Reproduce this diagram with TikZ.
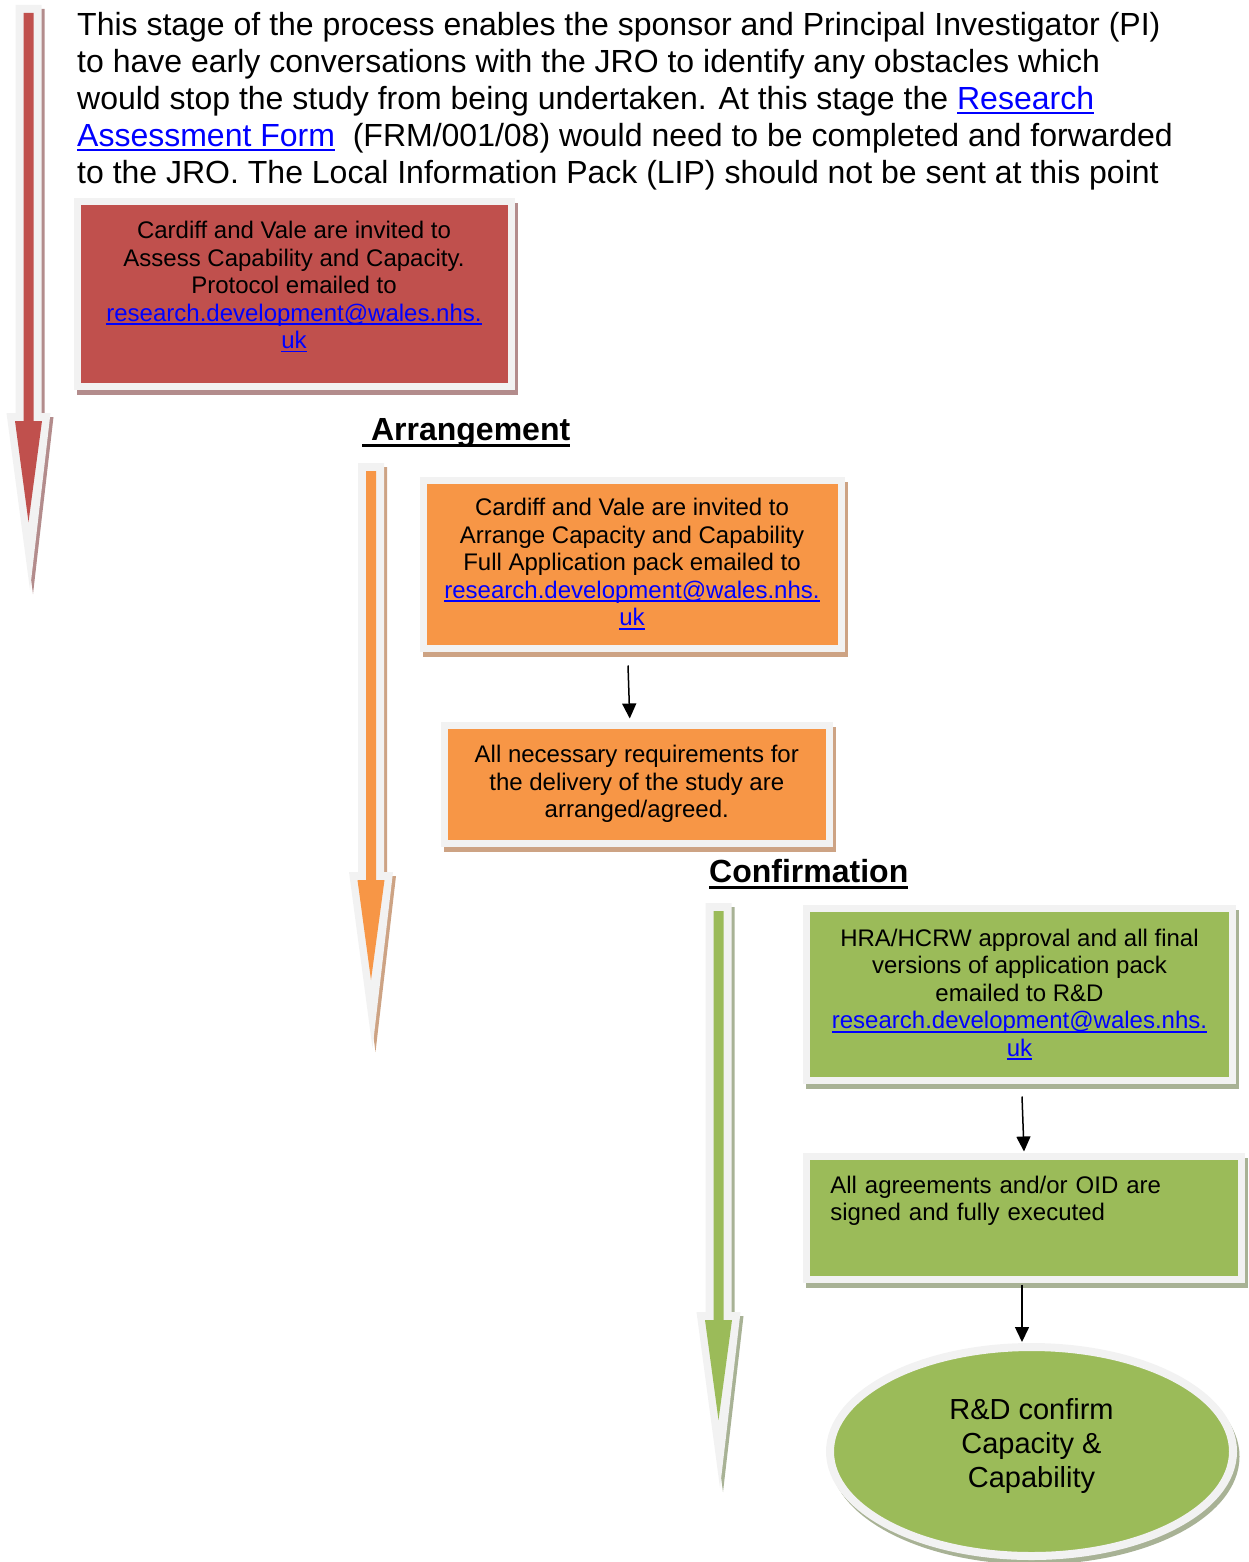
\documentclass[tikz,border=0pt]{standalone}
\usepackage{fontspec}
\setmainfont{Liberation Sans}
\usetikzlibrary{shapes.geometric,shadows,arrows.meta}

\definecolor{assessred}{HTML}{C0504D}
\definecolor{arrangeorange}{HTML}{F79646}
\definecolor{confirmgreen}{HTML}{9BBB59}
\definecolor{rimgray}{HTML}{F2F2F2}
\definecolor{redshade}{HTML}{B38C8C}
\definecolor{orangeshade}{HTML}{CDA384}
\definecolor{greenshade}{HTML}{A8B295}
\definecolor{linkblue}{HTML}{0000FF}

% underlined link and heading text
\newcommand\webref[1]{{\color{linkblue}\setbox0\hbox{#1}\rlap{\rule[-0.15em]{\wd0}{0.07em}}\box0}}
\newcommand\headrule[1]{\setbox0\hbox{#1}\rlap{\rule[-0.22em]{\wd0}{0.11em}}\box0}

% big stage arrow: centre x, top, head base, tip, fill, shadow
\newcommand\stagearrow[6]{%
  \fill[#6, xshift=3pt, yshift=-4pt] ({#1-13},#2) -- ({#1+13},#2) -- ({#1+13},#3) -- ({#1+22},#3)
    -- ({#1+1.5},#4) -- ({#1-22},#3) -- ({#1-13},#3) -- cycle;
  \fill[rimgray] ({#1-13},#2) -- ({#1+13},#2) -- ({#1+13},#3) -- ({#1+22},#3)
    -- ({#1+1.5},#4) -- ({#1-22},#3) -- ({#1-13},#3) -- cycle;
  \fill[#5] ({#1-5},{#2+8}) -- ({#1+5},{#2+8}) -- ({#1+5},{#3+8}) -- ({#1+13.5},{#3+8})
    -- ({#1},{#4-68}) -- ({#1-13.5},{#3+8}) -- ({#1-5},{#3+8}) -- cycle;
}

\tikzset{
  stagebox/.style={rectangle, draw=rimgray, line width=7pt, inner sep=0pt, align=center,
    font=\fontsize{24}{27.5}\selectfont},
  assessbox/.style={stagebox, fill=assessred,
    drop shadow={shadow xshift=3pt, shadow yshift=-5pt, fill=redshade, draw=redshade, line width=7pt, opacity=1}},
  arrangebox/.style={stagebox, fill=arrangeorange,
    drop shadow={shadow xshift=3pt, shadow yshift=-5pt, fill=orangeshade, draw=orangeshade, line width=7pt, opacity=1}},
  confirmbox/.style={stagebox, fill=confirmgreen,
    drop shadow={shadow xshift=3pt, shadow yshift=-5pt, fill=greenshade, draw=greenshade, line width=7pt, opacity=1}},
  intro/.style={inner sep=0pt, align=left, font=\fontsize{32}{37}\selectfont},
  stagehead/.style={inner sep=0pt, font=\fontsize{32}{37}\selectfont\bfseries},
  flowline/.style={-{Triangle[length=15pt,width=14pt]}, line width=1.5pt, black}
}

\begin{document}
\begin{tikzpicture}[x=1pt, y=-1pt]
    \useasboundingbox (0,0) rectangle (1248,1562);

    % stage arrows
    \stagearrow{28.5}{5}{413}{590}{assessred}{redshade}
    \stagearrow{371}{463}{872}{1048}{arrangeorange}{orangeshade}
    \stagearrow{718.5}{903}{1312}{1488}{confirmgreen}{greenshade}

    \node[intro, anchor=north west] (intro) at (77,11.7) {This stage of the process enables the sponsor and Principal Investigator (PI)\\
        to have early conversations with the JRO to identify any obstacles which\\
        would stop the study from being undertaken. At this stage the \webref{Research}\\
        \webref{Assessment Form}\ \ (FRM/001/08) would need to be completed and forwarded\\
        to the JRO. The Local Information Pack (LIP) should not be sent at this point};

    % assessment
    \node[assessbox, minimum width=434pt, minimum height=184pt, text depth=18pt] (assess) at (294,294)
        {Cardiff and Vale are invited to\\Assess Capability and Capacity.\\Protocol emailed to\\
         \webref{research.development@wales.nhs.}\\\webref{uk}};

    % arrangement
    \node[stagehead, anchor=base west] (arrhead) at (362,440) {\headrule{\ Arrangement}};
    \node[arrangebox, minimum width=418pt, minimum height=168pt] (arrange) at (632,564)
        {Cardiff and Vale are invited to\\Arrange Capacity and Capability\\Full Application pack emailed to\\
         \webref{research.development@wales.nhs.}\\\webref{uk}};
    \node[arrangebox, minimum width=385.5pt, minimum height=118pt] (agreed) at (636.75,784)
        {All necessary requirements for\\the delivery of the study are\\arranged/agreed.};
    \draw[flowline] ([xshift=-4pt,yshift=-14pt]arrange.south) -- ([xshift=-7pt,yshift=3pt]agreed.north);

    % confirmation
    \node[stagehead, anchor=base west] (confhead) at (709,882) {\headrule{Confirmation}};
    \node[confirmbox, minimum width=426pt, minimum height=172pt] (approval) at (1019.5,994.5)
        {HRA/HCRW approval and all final\\versions of application pack\\emailed to R\&D\\
         \webref{research.development@wales.nhs.}\\\webref{uk}};
    \node[confirmbox, align=left, text width=387.5pt, minimum width=434.5pt, minimum height=123pt,
        text depth=67pt] (signed) at (1024,1218)
        {All agreements and/or OID are\\signed and fully executed};
    \node[confirmbox, ellipse, line width=8pt, minimum width=403pt, minimum height=209pt,
        font=\fontsize{29}{34}\selectfont, text depth=18pt] (oval) at (1031.5,1451.5)
        {R\&D confirm\\Capacity \&\\Capability};
    \draw[flowline] ([xshift=2.5pt,yshift=-12.5pt]approval.south) -- ([yshift=1.5pt]signed.north);
    \draw[flowline] ([xshift=-2pt,yshift=-1.5pt]signed.south) -- ([xshift=-9.5pt,yshift=1pt]oval.north);
\end{tikzpicture}
\end{document}
